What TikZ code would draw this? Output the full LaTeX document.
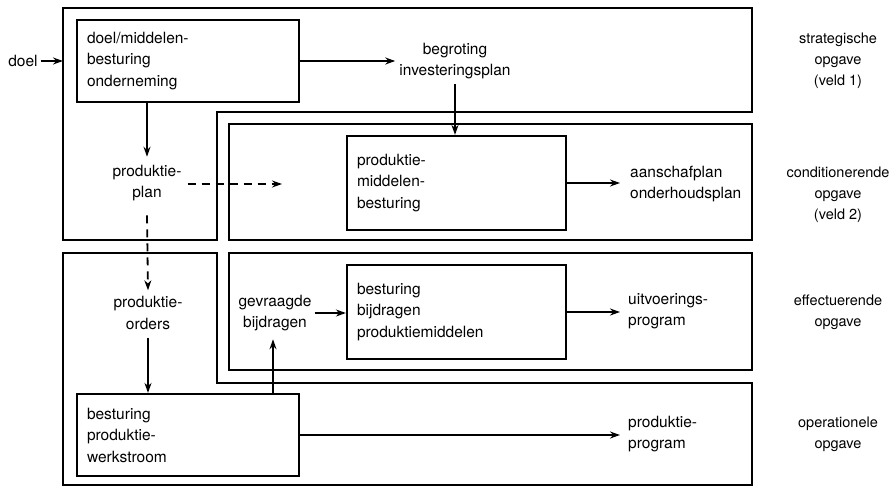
\documentclass[tikz,border=0pt]{standalone}
\usepackage{fontspec}
\setmainfont{TeX Gyre Heros}
\usetikzlibrary{arrows.meta}
\begin{document}
\begin{tikzpicture}[x=1pt,y=-1pt,
  font=\fontsize{15.5}{21.5}\selectfont,
  field/.style={line width=2.2pt, line join=miter},
  procbox/.style={draw, line width=2.2pt, inner xsep=9pt, inner ysep=0pt, align=left},
  lbl/.style={inner sep=0pt, align=center},
  lbll/.style={inner sep=0pt, align=left},
  rlbl/.style={lbl, font=\fontsize{14.5}{21}\selectfont},
  arr/.style={line width=1.8pt, -{Stealth[length=10pt,width=7pt]}},
  darr/.style={arr, dash pattern=on 8pt off 6pt}
]
\useasboundingbox (0,0) rectangle (891,487);
% fields
\draw[field] (63,8) -- (752,8) -- (752,112) -- (217,112) -- (217,240) -- (63,240) -- cycle;
\draw[field] (229,124) rectangle (752,240);
\draw[field] (229,253) rectangle (752,370);
\draw[field] (63,253) -- (217,253) -- (217,383) -- (752,383) -- (752,485) -- (63,485) -- cycle;
% process boxes
\node[procbox, minimum width=222pt, minimum height=82pt, text width=202pt] (dmb) at (188,61)
  {doel/middelen-\\besturing\\onderneming};
\node[procbox, minimum width=219pt, minimum height=94pt, text width=199pt] (pmb) at (456.5,183)
  {produktie-\\middelen-\\besturing};
\node[procbox, minimum width=219pt, minimum height=94pt, text width=199pt] (bbp) at (456.5,312)
  {besturing\\bijdragen\\produktiemiddelen};
\node[procbox, minimum width=222pt, minimum height=82pt, text width=202pt] (bpw) at (188,435)
  {besturing\\produktie-\\werkstroom};
% labels
\node[lbl] (doel) at (23,61) {doel};
\coordinate (v1left) at (63,61);
\node[lbl] (begr) at (455,61) {begroting\\investeringsplan};
\node[lbl] (plan) at (147,183) {produktie-\\plan};
\coordinate (dashend) at (282,184);
\node[lbll, anchor=west] (aansch) at (630,184) {aanschafplan\\onderhoudsplan};
\node[lbl] (orders) at (148,313) {produktie-\\orders};
\node[lbl] (gevr) at (275,313) {gevraagde\\bijdragen};
\node[lbll, anchor=west] (uitv) at (628,311) {uitvoerings-\\program};
\node[lbll, anchor=west] (pprog) at (628,434) {produktie-\\program};
% right-hand labels
\node[rlbl] (r1) at (838,61) {strategische\\opgave\\(veld 1)};
\node[rlbl] (r2) at (838,195) {conditionerende\\opgave\\(veld 2)};
\node[rlbl] (r3) at (838,312) {effectuerende\\opgave};
\node[rlbl] (r4) at (838,434) {operationele\\opgave};
% connectors
\draw[arr] ([xshift=3pt]doel.east) -- (v1left);
\draw[arr] (dmb.east) -- ([xshift=-4pt]begr.west |- dmb.east);
\draw[arr] ([yshift=-5pt]begr.south) -- (begr.south |- pmb.north);
\draw[arr] (dmb.south -| plan.north) -- ([yshift=8pt]plan.north);
\draw[darr] ([xshift=6pt]plan.east |- dashend) -- (dashend);
\draw[darr] ([yshift=-14pt]plan.south) -- ([yshift=6pt]orders.north);
\draw[arr] ([yshift=-8pt]orders.south) -- (orders.south |- bpw.north);
\draw[arr] (bpw.north -| 273,0) -- ([yshift=-8pt]gevr.south -| 273,0);
\draw[arr] ([xshift=3pt]gevr.east) -- (bbp.west |- gevr.east);
\draw[arr] (bbp.east) -- ([xshift=-8pt]uitv.west |- bbp.east);
\draw[arr] (pmb.east) -- ([xshift=-10pt]aansch.west |- pmb.east);
\draw[arr] (bpw.east) -- ([xshift=-8pt]pprog.west |- bpw.east);
\end{tikzpicture}
\end{document}
